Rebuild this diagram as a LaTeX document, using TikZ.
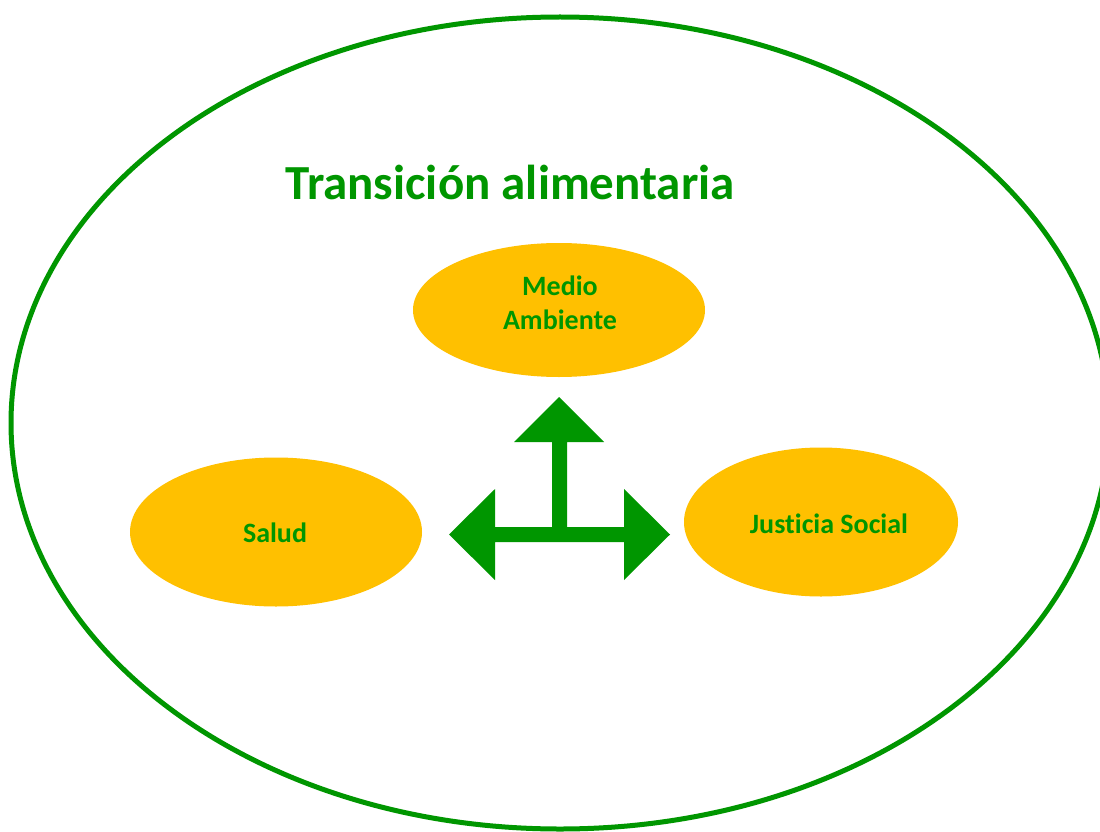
\documentclass[tikz,border=0pt]{standalone}
\usepackage{fontspec}
\setmainfont{Carlito}[Ligatures=NoCommon]
\usetikzlibrary{shapes.geometric}
\definecolor{dgreen}{RGB}{0,150,0}
\definecolor{gold}{RGB}{255,192,0}
\begin{document}
\begin{tikzpicture}[x=1pt,y=-1pt,
  blob/.style={ellipse, fill=gold, inner sep=0pt},
  blobtext/.style={text=dgreen, font=\bfseries\fontsize{28}{33}\selectfont, align=center, anchor=base},
  arrowshape/.style={fill=dgreen},
]
\useasboundingbox (0,0) rectangle (1100,832);
\fill[white] (0,0) rectangle (1100,832);
\draw[dgreen, line width=5pt] (560,423) ellipse [x radius=549, y radius=406];

\node[text=dgreen, font=\bfseries\fontsize{49}{58}\selectfont, anchor=base] (title) at (510,199) {Transición alimentaria};

\node[blob, minimum width=292, minimum height=134] (medio) at (559,310) {};
\node[blobtext] (mediotext) at (560,295) {Medio};
\node[blobtext] (ambtext) at (560,329) {Ambiente};

\node[blob, minimum width=292, minimum height=149] (salud) at (276,532) {};
\node[blobtext] (saludtext) at (275,542) {Salud};

\node[blob, minimum width=274, minimum height=149] (justicia) at (821,522) {};
\node[blobtext] (justext) at (829,533) {Justicia Social};

\fill[arrowshape] (559,397) -- (604,442) -- (567,442) -- (567,527) -- (624,527) -- (624,489)
  -- (670,534.5) -- (624,580) -- (624,542) -- (495,542) -- (495,580) -- (449,534.5)
  -- (495,489) -- (495,527) -- (552,527) -- (552,442) -- (514,442) -- cycle;
\end{tikzpicture}
\end{document}
